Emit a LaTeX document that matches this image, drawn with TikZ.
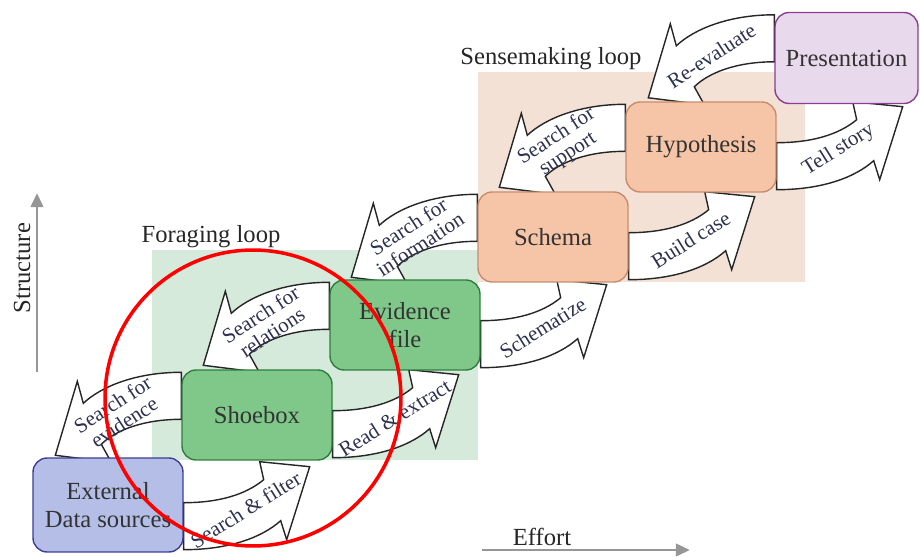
\documentclass[tikz,border=0pt]{standalone}
\usepackage{fontspec}
\setmainfont{Liberation Serif}
\usepackage{tikz}
\usetikzlibrary{arrows.meta, calc}

\definecolor{extfill}{RGB}{180,190,230}
\definecolor{extline}{RGB}{60,60,150}
\definecolor{forfill}{RGB}{128,200,138}
\definecolor{forline}{RGB}{46,125,62}
\definecolor{senfill}{RGB}{246,196,166}
\definecolor{senline}{RGB}{200,140,108}
\definecolor{prefill}{RGB}{232,217,236}
\definecolor{preline}{RGB}{140,60,145}
\definecolor{forbg}{RGB}{213,234,219}
\definecolor{senbg}{RGB}{243,225,213}
\definecolor{labtext}{RGB}{45,50,80}
\definecolor{axisgray}{RGB}{150,150,150}

\tikzset{
  box/.style={draw, line width=0.8pt, rounded corners=8pt,
    minimum width=3cm, minimum height=1.8cm, align=center,
    font=\fontsize{14}{16}\selectfont, text=black!80},
  blockarrow/.style={draw=black!85, fill=white, line width=0.8pt},
  arrowlabel/.style={font=\fontsize{12}{12}\selectfont, text=labtext, align=center, inner sep=1pt},
  looplabel/.style={font=\fontsize{14}{16}\selectfont, text=black!85},
  axis/.style={axisgray, line width=1.7pt, -{Triangle[length=8pt,width=7pt]}},
}

% curved block arrow: from the right side of a box, up to the next box
\newcommand{\fwdarrow}[2]{%
  \begin{scope}[shift={($(#1.south east)+(0,-3)$)}]
    \draw[blockarrow] (0,0) -- (0,-47)
      .. controls (35,-47) and (62,-55) .. (80,-70)
      -- (76,-88) -- (126,-83) -- (103,-10) -- (97,-29)
      .. controls (78,-12) and (45,0) .. (0,0) -- cycle;
    \node[arrowlabel, rotate=32] at (62,-40) {#2};
  \end{scope}}

% curved block arrow: from the left side of a box, down to the box before it
\newcommand{\backarrow}[2]{%
  \begin{scope}[shift={($(#1.north west)+(0,3)$)}]
    \draw[blockarrow] (0,0)
      .. controls (-45,0) and (-80,14) .. (-98,31)
      -- (-104,9) -- (-126,83) -- (-70,90) -- (-80,72)
      .. controls (-66,58) and (-38,47) .. (0,47) -- cycle;
    \node[arrowlabel, rotate=33] at (-63,41) {#2};
  \end{scope}}

\begin{document}
\begin{tikzpicture}[x=0.02cm, y=-0.02cm]
    \useasboundingbox (0,0) rectangle (920,557);

    % === TLA PETLI ===
    \fill[forbg] (152,250) rectangle (478,460);
    \fill[senbg] (478,72) rectangle (805,282);
    \node[looplabel] (forlab) at (211,237) {Foraging loop};
    \node[looplabel] (senlab) at (551,59) {Sensemaking loop};

    % === WEZLY (pozycje) ===
    \coordinate (pext) at (108,505);
    \coordinate (pshoe) at (257,415);
    \coordinate (pevid) at (405,325);
    \coordinate (pschema) at (553,237);
    \coordinate (phypo) at (701,147);
    \coordinate (ppres) at (846.5,58);

    % === STRZALKI (pod wezlami) ===
    \path (pext) node[box, minimum height=1.88cm, draw=none] (ext) {}
          (pshoe) node[box, draw=none] (shoe) {}
          (pevid) node[box, draw=none] (evid) {}
          (pschema) node[box, draw=none] (schema) {}
          (phypo) node[box, draw=none] (hypo) {}
          (ppres) node[box, minimum width=2.86cm, minimum height=1.82cm, draw=none] (pres) {};

    \fwdarrow{ext}{Search \& filter}
    \fwdarrow{shoe}{Read \& extract}
    \fwdarrow{evid}{Schematize}
    \fwdarrow{schema}{Build case}
    \fwdarrow{hypo}{Tell story}

    \backarrow{shoe}{Search for\\evidence}
    \backarrow{evid}{Search for\\relations}
    \backarrow{schema}{Search for\\information}
    \backarrow{hypo}{Search for\\support}
    \backarrow{pres}{Re-evaluate}

    % === WEZLY ===
    \node[box, fill=extfill, draw=extline, minimum height=1.88cm] at (pext) {External\\Data sources};
    \node[box, fill=forfill, draw=forline] at (pshoe) {Shoebox};
    \node[box, fill=forfill, draw=forline] at (pevid) {Evidence\\file};
    \node[box, fill=senfill, draw=senline] at (pschema) {Schema};
    \node[box, fill=senfill, draw=senline] at (phypo) {Hypothesis};
    \node[box, fill=prefill, draw=preline, minimum width=2.86cm, minimum height=1.82cm] at (ppres) {Presentation};

    % === OSIE ===
    \coordinate (s0) at (37,372);
    \coordinate (s1) at (37,193);
    \draw[axis] (s0) -- (s1);
    \node[looplabel, rotate=90] (structlab) at (22,268) {Structure};
    \coordinate (e0) at (482,550);
    \coordinate (e1) at (690,550);
    \draw[axis] (e0) -- (e1);
    \node[looplabel] (effortlab) at (542,537) {Effort};

    % === OKRAG ===
    \draw[red, line width=2pt] (253,398) circle[radius=2.96cm];
\end{tikzpicture}
\end{document}
